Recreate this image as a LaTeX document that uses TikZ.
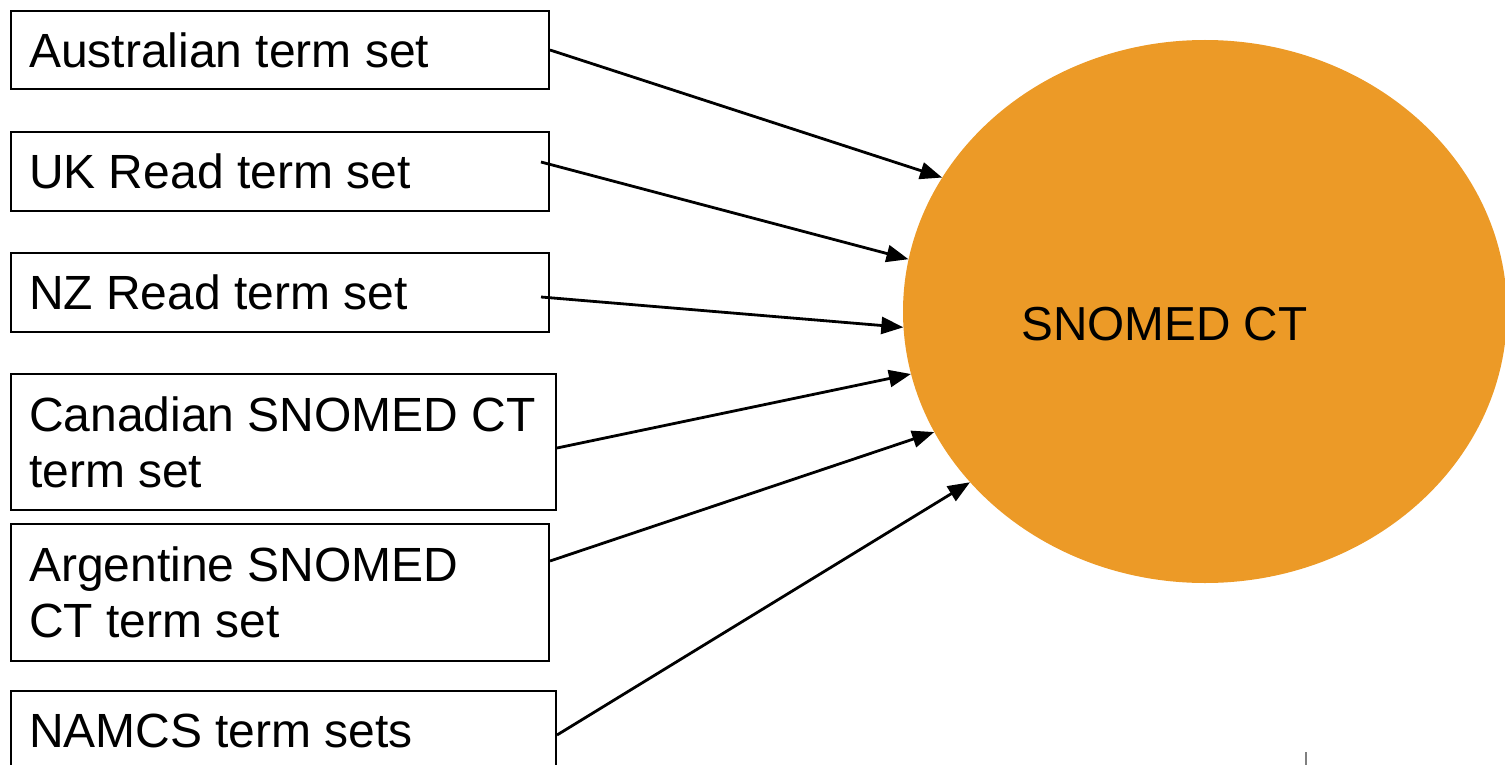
\documentclass[tikz,border=0pt]{standalone}
\usepackage{fontspec}
\setmainfont{Liberation Sans}
\usetikzlibrary{shapes.geometric,arrows.meta,calc}
\definecolor{snorange}{RGB}{236,154,39}
\begin{document}
\begin{tikzpicture}[x=1pt,y=-1pt,
  box/.style={draw=black, line width=2pt, rectangle, anchor=north west,
    inner xsep=18pt, inner ysep=0pt, align=flush left,
    font=\fontsize{48pt}{56pt}\selectfont},
  conn/.style={line width=2.8pt, -{Triangle[length=22pt,width=17pt]}},
  bigtext/.style={font=\fontsize{47.7pt}{56pt}\selectfont, inner sep=0pt}
]
\useasboundingbox (0,0) rectangle (1505,765);
% circle
\node[ellipse, fill=snorange, minimum width=604pt, minimum height=543pt, inner sep=0pt] (sn) at (1205,311.5) {};
\node[bigtext, anchor=base] (snt) at (1164.5,340) {SNOMED CT};
% boxes
\node[box, minimum width=538pt, minimum height=78pt, text width=502pt] (b1) at (10,10) {Australian term set};
\node[box, minimum width=538pt, minimum height=79pt, text width=502pt] (b2) at (10,131) {UK Read term set};
\node[box, minimum width=538pt, minimum height=79pt, text width=502pt] (b3) at (10,252) {NZ Read term set};
\node[box, minimum width=545pt, minimum height=136pt, text width=509pt] (b4) at (10,373) {\mbox{Canadian SNOMED CT}\\term set};
\node[box, minimum width=538pt, minimum height=137pt, text width=502pt] (b5) at (10,523) {\mbox{Argentine SNOMED}\\CT term set};
\node[box, minimum width=545pt, minimum height=80pt, text width=509pt] (b6) at (10,690) {NAMCS term sets};
% connectors
\draw[conn] ($(b1.north east)+(0,40)$) -- (sn.153.6);
\draw[conn] ($(b2.north east)+(-9,31)$) -- (sn.170.1);
\draw[conn] ($(b3.north east)+(-9,45)$) -- (sn.183.1);
\draw[conn] ($(b4.north east)+(0,75)$) -- (sn.192);
\draw[conn] ($(b5.north east)+(0,38)$) -- (sn.204);
\draw[conn] ($(b6.north east)+(0,45)$) -- (sn.216.3);
% small tick
\draw[gray, line width=2pt] (1306,752) -- (1306,765);
\end{tikzpicture}
\end{document}
